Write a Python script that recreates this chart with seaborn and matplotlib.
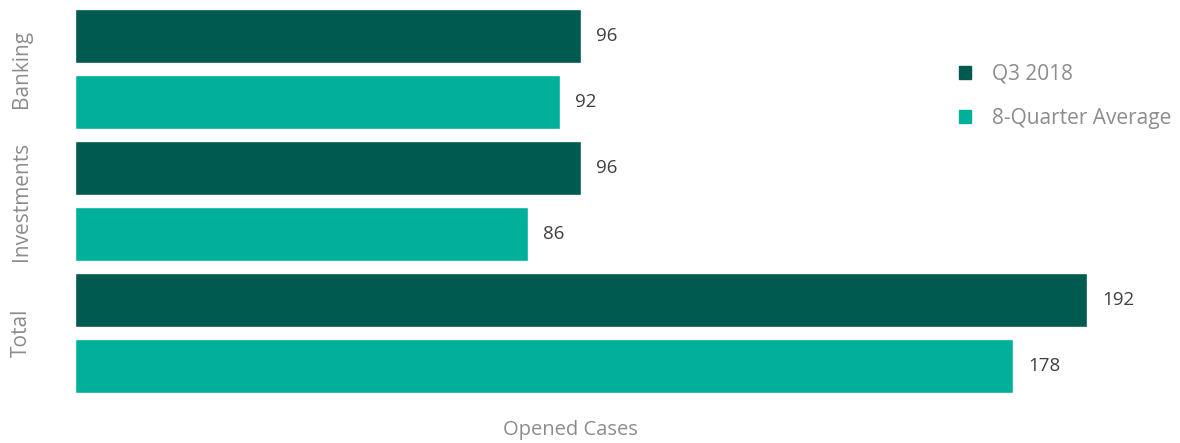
import matplotlib
matplotlib.use("Agg")
import matplotlib.pyplot as plt
import seaborn as sns
import pandas as pd
from matplotlib.patches import Patch

categories = ["Banking", "Investments", "Total"]
series_names = ["Q3 2018", "8-Quarter Average"]
q3_2018 = [96, 96, 192]
avg_8q = [92, 86, 178]

df = pd.DataFrame({
    "Category": categories * 2,
    "Series": [series_names[0]] * 3 + [series_names[1]] * 3,
    "Value": q3_2018 + avg_8q,
})

sns.set_theme(style="white")
plt.rcParams["font.family"] = ["Open Sans", "DejaVu Sans"]

colors = ["#005a4f", "#00b09b"]
W, H = 1180, 443
fig = plt.figure(figsize=(W / 100, H / 100), dpi=100)
ax = fig.add_axes([75 / W, 1 - 400 / H, (1170 - 75) / W, 400 / H])

sns.barplot(data=df, y="Category", x="Value", hue="Series", orient="h",
            palette=colors, width=1.0, gap=0.18, ax=ax, legend=False,
            saturation=1, errorbar=None)

ax.set_xlim(0, (1170 - 75) / 5.27)
ax.set_ylim(2.508, -0.523)
for s in ax.spines.values():
    s.set_visible(False)
ax.set_xticks([])
ax.set_ylabel("")
ax.set_xlabel("Opened Cases", fontsize=14.5, color="#8c8c8c")
ax.xaxis.set_label_coords((570 - 75) / (1170 - 75), -0.075)
ax.xaxis.label.set_va("center")

ax.tick_params(axis="y", length=0, pad=31, labelsize=15, labelcolor="#8c8c8c")
for lbl in ax.get_yticklabels():
    lbl.set_rotation(90)
    lbl.set_va("center")

for cont in ax.containers:
    ax.bar_label(cont, padding=11, fontsize=13.5, color="#404040")

handles = [Patch(facecolor=c, edgecolor=c) for c in colors]
leg = ax.legend(handles, series_names, loc="upper left",
                bbox_to_anchor=((940 - 75) / (1170 - 75), 1 - 45 / 400),
                frameon=False, fontsize=15, handlelength=0.6, handleheight=0.6,
                handletextpad=1.0, labelspacing=1.12, labelcolor="#8c8c8c")

fig.savefig("out.png", dpi=100)
